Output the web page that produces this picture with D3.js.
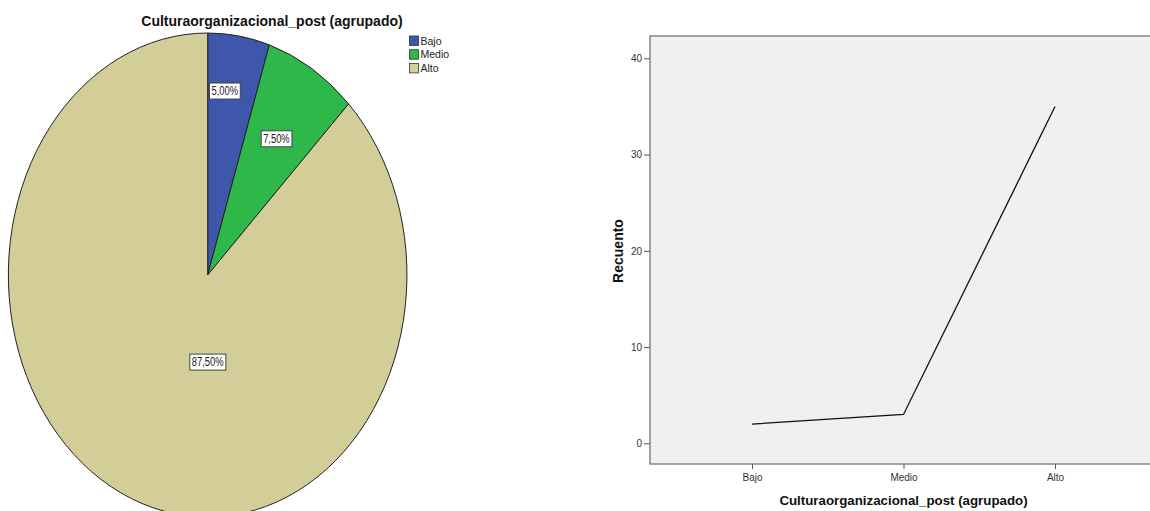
<!DOCTYPE html>
<html><head><meta charset="utf-8">
<script src="https://cdn.jsdelivr.net/npm/d3@7"></script>
<style>body{margin:0;background:#fff;}svg{display:block;font-family:"Liberation Sans",Arial,sans-serif;}</style>
</head><body>
<svg id="c" width="1150" height="511"></svg>
<script>
const categories = ["Bajo", "Medio", "Alto"];
const counts = [2, 3, 35];
const percentLabels = ["5,00%", "7,50%", "87,50%"];
const colors = ["#3e57ab", "#2fb84a", "#d3cd97"];
const yTicks = [0, 10, 20, 30, 40];
const chartTitle = "Culturaorganizacional_post (agrupado)";
const yTitle = "Recuento";

const svg = d3.select("#c");

// ---------- Pie ----------
const cx = 207.7, cy = 275, rx = 199.3, ry = 242;
const pie = d3.pie().sort(null).value(d => d)(counts);
const arc = d3.arc().innerRadius(0).outerRadius(1);
const pg = svg.append("g").attr("transform", `translate(${cx},${cy}) scale(${rx},${ry})`);
pg.selectAll("path").data(pie).enter().append("path")
  .attr("d", arc)
  .attr("fill", (d, i) => colors[i])
  .attr("stroke", "#222")
  .attr("stroke-width", 1)
  .attr("vector-effect", "non-scaling-stroke");

// labels
const lg = svg.append("g");
pie.forEach((d, i) => {
  const total = d3.sum(counts);
  const frac = counts[i] / total;
  let ang, r;
  if (frac > 0.5) { ang = Math.PI; r = 0.36; }
  else { ang = (d.startAngle + d.endAngle) / 2 - (i === 0 ? 0.045 : 0); r = i === 0 ? 0.765 : 0.66; }
  const x = cx + Math.sin(ang) * r * rx;
  const y = cy - Math.cos(ang) * r * ry;
  const t = lg.append("text").attr("x", x).attr("y", y + 4.2)
    .attr("text-anchor", "middle").attr("font-size", 12).attr("fill", "#222")
    .attr("textLength", percentLabels[i].length * 5.3).attr("lengthAdjust", "spacingAndGlyphs")
    .text(percentLabels[i]);
  const bb = t.node().getBBox();
  lg.insert("rect", () => t.node())
    .attr("x", bb.x - 2).attr("y", y - 8).attr("width", bb.width + 4).attr("height", 16)
    .attr("fill", "#fff").attr("stroke", "#444").attr("stroke-width", 1);
});

svg.append("text").attr("x", 272).attr("y", 26).attr("text-anchor", "middle")
  .attr("font-size", 14).attr("font-weight", "bold").attr("fill", "#111").text(chartTitle);

// legend
const leg = svg.append("g");
categories.forEach((c, i) => {
  const y = 36 + i * 13.7;
  leg.append("rect").attr("x", 409.5).attr("y", y).attr("width", 9).attr("height", 9.5)
    .attr("fill", colors[i]).attr("stroke", "#333").attr("stroke-width", 0.8);
  leg.append("text").attr("x", 420.5).attr("y", y + 8.5).attr("font-size", 10.5).attr("fill", "#222").text(c);
});

// ---------- Line chart ----------
const L = 650, T = 36, B = 464, R = 1157;
const x = d3.scalePoint().domain(categories).range([L, R]).padding(0.673);
const y = d3.scaleLinear().domain([0, 40]).range([443.3, 58.3]);

svg.append("rect").attr("x", L).attr("y", T).attr("width", R - L).attr("height", B - T)
  .attr("fill", "#f0f0f0").attr("stroke", "#777").attr("stroke-width", 1.3);

const ya = svg.append("g").attr("transform", `translate(${L},0)`)
  .call(d3.axisLeft(y).tickValues(yTicks).tickSize(6).tickPadding(2).tickFormat(d3.format("d")));
ya.select(".domain").remove();
ya.selectAll("line").attr("stroke", "#555");
ya.selectAll("text").attr("font-size", 10).attr("fill", "#333").attr("font-family", "Liberation Sans, Arial, sans-serif");

const xa = svg.append("g").attr("transform", `translate(0,${B})`)
  .call(d3.axisBottom(x).tickSize(5).tickPadding(5));
xa.select(".domain").remove();
xa.selectAll("line").attr("stroke", "#555");
xa.selectAll("text").attr("font-size", 10).attr("fill", "#333").attr("font-family", "Liberation Sans, Arial, sans-serif");

svg.append("path").datum(counts)
  .attr("d", d3.line().x((d, i) => x(categories[i])).y(d => y(d)))
  .attr("fill", "none").attr("stroke", "#111").attr("stroke-width", 1.3);

svg.append("text").attr("transform", "translate(623,251) rotate(-90)").attr("text-anchor", "middle")
  .attr("font-size", 14).attr("font-weight", "bold").attr("fill", "#111").text(yTitle);
svg.append("text").attr("x", 903.5).attr("y", 505).attr("text-anchor", "middle")
  .attr("font-size", 13.3).attr("font-weight", "bold").attr("fill", "#111").text(chartTitle);
</script>
</body></html>
